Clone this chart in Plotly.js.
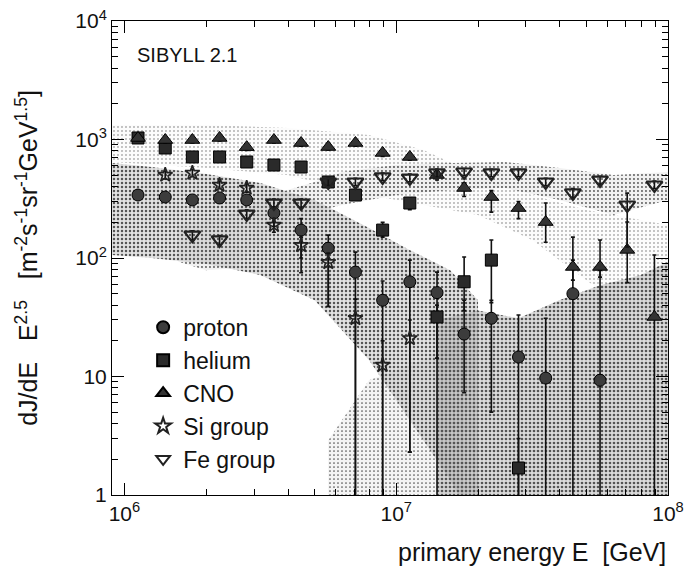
<!DOCTYPE html>
<html><head><meta charset="utf-8">
<script src="https://cdn.plot.ly/plotly-3.0.1.min.js"></script>
<style>body{margin:0;background:#fff}#chart{width:689px;height:571px}</style>
</head><body><div id="chart"></div>
<script>
// bin centres (GeV)
const energy = [1.122e6,1.413e6,1.778e6,2.239e6,2.818e6,3.548e6,4.467e6,5.623e6,7.079e6,8.913e6,
                1.122e7,1.413e7,1.778e7,2.239e7,2.818e7,3.548e7,4.467e7,5.623e7,7.079e7,8.913e7];

const proton    = [340,327,309,321,309,240,172,121,76,44,63,51,22.8,31,14.6,9.7,50,9.3,null,null];
const protonHi  = [370,355,335,348,335,270,215,156,112,64,96,76,44,44,33,31,96,79,null,null];
const protonLo  = [315,300,285,295,285,185,75,39,0.5,0.5,2.3,0.5,7.3,5.0,0.5,0.5,0.5,0.5,null,null];

const helium    = [1030,848,712,712,646,609,586,438,340,172,291,31.8,63,96,1.69,null,null,null,null,null];
const heliumHi  = [1090,900,760,760,690,650,625,470,365,200,320,40,102,142,3,null,null,null,null,null];
const heliumLo  = [970,800,670,670,605,570,550,410,318,150,255,14.3,36,42,0.5,null,null,null,null,null];

const cno       = [1030,990,990,1030,862,990,934,864,934,770,712,502,390,327,264,201,84,84,117,31.8];
const cnoHi     = [1090,1050,1050,1090,915,1050,990,915,990,820,760,550,430,370,300,291,150,142,201,106];
const cnoLo     = [970,935,935,970,810,935,880,815,880,720,670,455,330,244,215,136,65,69,62,0.5];

const siGroup   = [null,502,522,413,390,190,128,92,31,12.5,21,null,null,null,null,null,null,null,null,null];
const siHi      = [null,540,560,445,420,215,150,110,45,20,30,null,null,null,null,null,null,null,null,null];
const siLo      = [null,465,485,385,360,165,100,39,0.5,0.5,2.3,null,null,null,null,null,null,null,null,null];

const feGroup   = [null,null,156,142,235,291,291,438,438,483,473,522,532,522,522,438,354,455,280,413];
const feHi      = [null,null,170,155,255,315,315,470,470,520,510,560,570,560,560,470,385,490,353,445];
const feLo      = [null,null,142,130,215,268,268,408,408,450,440,485,495,485,485,408,325,420,124,385];

// systematic-uncertainty bands (energy, upper, lower)
const bandProtonE  = [9.0e5,1.26e6,2.0e6,3.16e6,5.01e6,7.94e6,1.12e7,1.58e7,2.0e7];
const bandProtonHi = [634,586,511,430,309,179,117,79,44];
const bandProtonLo = [106,100,89,72,44,13.8,4.3,1.34,0.5];

const bandLowE  = [5.62e6,7.94e6,1.26e7,1.78e7];
const bandLowHi = [2.9,9.3,13.8,20.3];
const bandLowLo = [0.5,0.5,0.5,0.5];

const bandHeE  = [1.41e7,2.0e7,2.82e7,3.98e7,5.62e7,7.94e7,1.0e8];
const bandHeHi = [30,36,31,44,59,72,93];
const bandHeLo = [0.5,0.5,0.5,0.5,0.5,0.5,0.5];

const bandFeE  = [1.58e6,2.0e6,2.51e6,3.16e6,3.98e6,5.01e6,6.31e6,1.0e7,1.58e7,2.51e7,3.98e7,6.31e7,1.0e8];
const bandFeHi = [190,209,244,309,375,438,532,609,634,646,575,502,532];
const bandFeLo = [93,79,82,129,201,245,280,340,375,390,309,231,309];

const bandCnoE  = [9.0e5,2.0e6,3.98e6,7.94e6,1.26e7,2.0e7,3.16e7,5.01e7,7.94e7,1.0e8];
const bandCnoHi = [1325,1325,1250,1092,815,502,340,254,209,190];
const bandCnoLo = [646,575,502,340,280,231,142,65,30,25];

const xTickVals = [1e6,1e7,1e8];
const xTickText = ['10<sup>6</sup>','10<sup>7</sup>','10<sup>8</sup>'];
const yTickVals = [1,10,100,1000,10000];
const yTickText = ['1','10','10<sup>2</sup>','10<sup>3</sup>','10<sup>4</sup>'];

function minorTicks(lo, hi){ const v=[]; for(let d=lo; d<hi; d++){ for(let m=2;m<=9;m++) v.push(m*Math.pow(10,d)); } return v; }

function band(E, hi, lo, color, dens){
  return {x: E.concat(E.slice().reverse()), y: hi.concat(lo.slice().reverse()),
    mode:'none', fill:'toself', fillcolor: color, hoverinfo:'skip', showlegend:false,
    fillpattern:{shape:'.', fgcolor:'#555', bgcolor:color, size:4, solidity:dens}, type:'scatter'};
}
function errs(v, hi, lo){
  return {type:'data', symmetric:false,
    array: v.map((y,i)=> y==null?null:hi[i]-y),
    arrayminus: v.map((y,i)=> y==null?null:y-lo[i]),
    color:'#111', thickness:1.6, width:2};
}
const font = 'Liberation Sans, Arial, Helvetica, sans-serif';

const traces = [
  band(bandCnoE, bandCnoHi, bandCnoLo, 'rgba(230,230,230,0.12)', 0.08),
  band(bandLowE, bandLowHi, bandLowLo, 'rgba(200,200,200,0.2)', 0.15),
  band(bandProtonE, bandProtonHi, bandProtonLo, 'rgba(170,170,170,0.35)', 0.3),
  band(bandHeE, bandHeHi, bandHeLo, 'rgba(165,165,165,0.4)', 0.35),
  band(bandFeE, bandFeHi, bandFeLo, 'rgba(200,200,200,0.25)', 0.18),
  {x:energy, y:proton, name:'proton', mode:'markers', type:'scatter', error_y: errs(proton,protonHi,protonLo),
   marker:{symbol:'circle', size:12, color:'#3c3c3c', line:{color:'#000', width:1}}},
  {x:energy, y:helium, name:'helium', mode:'markers', type:'scatter', error_y: errs(helium,heliumHi,heliumLo),
   marker:{symbol:'square', size:12, color:'#2a2a2a', line:{color:'#000', width:1}}},
  {x:energy, y:cno, name:'CNO', mode:'markers', type:'scatter', error_y: errs(cno,cnoHi,cnoLo),
   marker:{symbol:'triangle-up', size:13, color:'#333', line:{color:'#000', width:1}}},
  {x:energy, y:siGroup, name:'Si group', mode:'markers', type:'scatter', error_y: errs(siGroup,siHi,siLo),
   marker:{symbol:'star-open', size:11, color:'#222', line:{color:'#222', width:1.6}}},
  {x:energy, y:feGroup, name:'Fe group', mode:'markers', type:'scatter', error_y: errs(feGroup,feHi,feLo),
   marker:{symbol:'triangle-down-open', size:14, color:'#222', line:{color:'#222', width:2.2}}}
];

const layout = {
  width:689, height:571,
  margin:{l:112, r:21, t:21, b:76},
  paper_bgcolor:'#fff', plot_bgcolor:'#fff',
  font:{family:font, color:'#111', size:21},
  showlegend:true,
  legend:{x:0.056, y:0.399, xanchor:'left', yanchor:'top', bgcolor:'rgba(0,0,0,0)',
    font:{family:font, size:23, color:'#111'}, itemsizing:'constant', tracegroupgap:0, itemwidth:30},
  xaxis:{type:'log', range:[Math.log10(9e5), 8], showline:true, linecolor:'#000', linewidth:1, mirror:'ticks',
    ticks:'inside', ticklen:12, tickcolor:'#000', tickmode:'array', tickvals:xTickVals, ticktext:xTickText,
    showgrid:false, zeroline:false, tickfont:{family:font, size:21, color:'#111'},
    minor:{tickmode:'array', tickvals:minorTicks(5,8), ticks:'inside', ticklen:6, tickcolor:'#000', showgrid:false}},
  yaxis:{type:'log', range:[0,4], showline:true, linecolor:'#000', linewidth:1, mirror:'ticks',
    ticks:'inside', ticklen:12, tickcolor:'#000', tickmode:'array', tickvals:yTickVals, ticktext:yTickText,
    showgrid:false, zeroline:false, tickfont:{family:font, size:21, color:'#111'},
    minor:{tickmode:'array', tickvals:minorTicks(0,4), ticks:'inside', ticklen:6, tickcolor:'#000', showgrid:false},
    title:{text:'dJ/dE&nbsp;&nbsp; E<sup>2.5</sup>&nbsp;&nbsp; [m<sup>-2</sup>s<sup>-1</sup>sr<sup>-1</sup>GeV<sup>1.5</sup>]',
      font:{family:font, size:25, color:'#111'}, standoff:30}},
  annotations:[
    {text:'SIBYLL 2.1', xref:'paper', yref:'paper', x:0.041, y:0.928, xanchor:'left', yanchor:'middle',
     showarrow:false, font:{family:font, size:20, color:'#111'}},
    {text:'primary energy E&nbsp; [GeV]', xref:'paper', yref:'paper', x:1.0, y:-0.12, xanchor:'right', yanchor:'middle',
     showarrow:false, font:{family:font, size:25, color:'#111'}}
  ]
};
Plotly.newPlot('chart', traces, layout, {displayModeBar:false, staticPlot:true});
</script></body></html>
